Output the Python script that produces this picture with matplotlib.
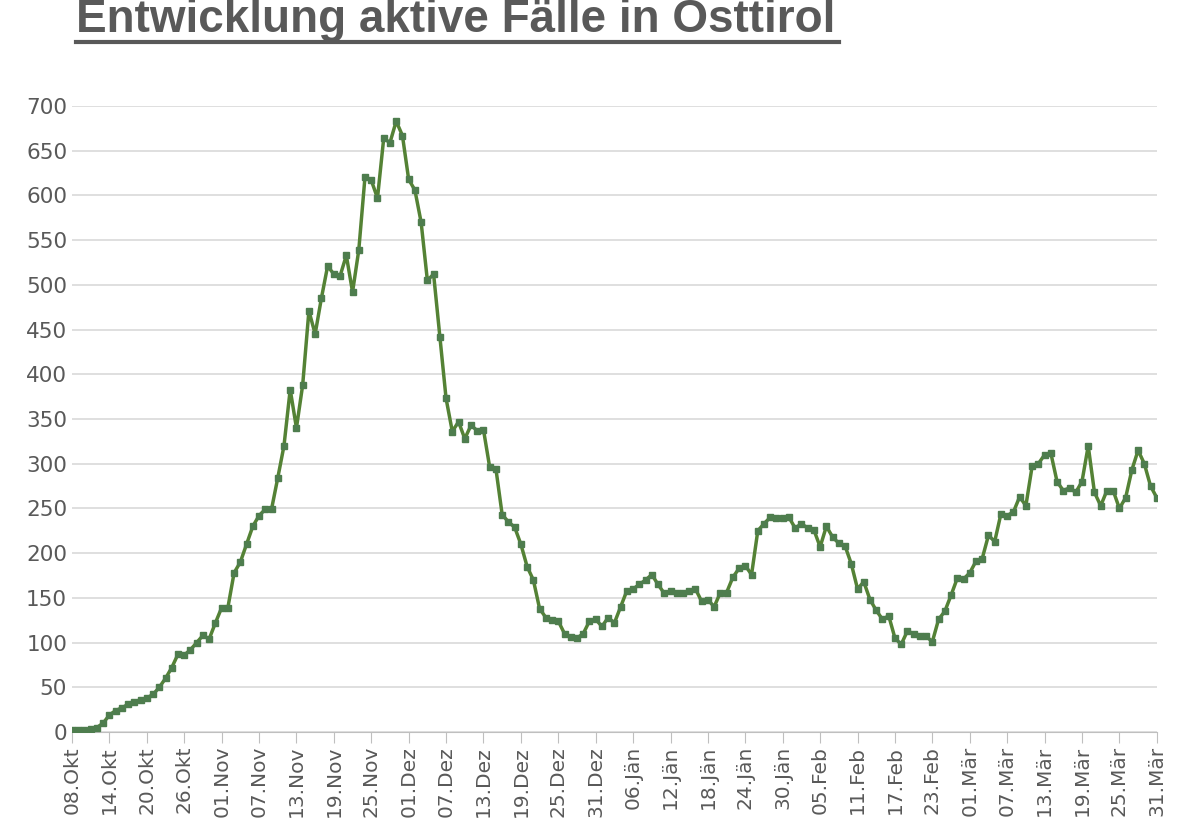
import datetime as dt
import matplotlib.pyplot as plt

# daily active cases, 08.Okt .. 31.Mär
values = [2, 2, 2,
          3, 5, 10, 19, 24, 27, 31, 34, 36, 38, 42, 50, 60, 72, 87, 86, 92, 100,
          108, 104, 122, 139, 139, 178, 190, 210, 230, 242, 249, 249, 284, 320, 383, 340,
          388, 471, 445, 485, 521, 512, 510, 533, 492, 539, 621, 617, 597, 664, 659, 683,
          667, 618, 606, 570, 505, 512, 442, 373, 336, 347,
          328, 343, 337, 338, 296, 294, 243, 235, 229, 210,
          185, 170, 138, 128, 125, 124, 110, 106, 105, 110,
          124, 126, 118, 128, 122, 140, 158, 160, 165, 170,
          176, 165, 155, 158, 155, 155, 158, 160, 146, 148,
          140, 156, 156, 173, 183, 186, 176, 225, 233, 240,
          239, 239, 240, 228, 233, 228, 226, 207, 230, 218,
          211, 208, 188, 160, 168, 148, 136, 126, 130, 105,
          98, 113, 110, 107, 107, 101, 126, 135, 153, 172,
          171, 178, 191, 194, 220, 213, 244, 242, 246, 263,
          253, 297, 300, 310, 312, 280, 270, 273, 268, 280,
          320, 268, 253, 270, 270, 250, 262, 293, 315, 300,
          275, 262]

months = {10: 'Okt', 11: 'Nov', 12: 'Dez', 1: 'Jän', 2: 'Feb', 3: 'Mär'}
start = dt.date(2020, 10, 8)
dates = [start + dt.timedelta(days=i) for i in range(len(values))]
tick_pos = list(range(0, len(values), 6))
tick_labels = [f"{dates[i].day:02d}.{months[dates[i].month]}" for i in tick_pos]

fig = plt.figure(figsize=(12, 8.25), dpi=100)
ax = fig.add_axes([0.06, 0.1127, 0.904, 0.7588])

x = list(range(len(values)))
ax.plot(x, values, color='#548235', linewidth=2.5, marker='s', markersize=5,
        markerfacecolor='#4E7D4E', markeredgecolor='#4E7D4E', zorder=3)

ax.set_xlim(0, len(values) - 1)
ax.set_ylim(0, 700)
ax.set_yticks(range(0, 701, 50))
ax.grid(axis='y', color='#d9d9d9', linewidth=1.2)
ax.set_axisbelow(True)
ax.set_xticks(tick_pos)
ax.set_xticklabels(tick_labels, rotation=90, fontsize=14.5, color='#595959')
ax.tick_params(axis='y', labelsize=15.5, labelcolor='#595959', length=0)
ax.tick_params(axis='x', length=8, color='#bfbfbf', pad=2)
for s in ['top', 'right', 'left']:
    ax.spines[s].set_visible(False)
ax.spines['bottom'].set_color('#bfbfbf')

fig.text(0.063, 0.976, 'Entwicklung aktive Fälle in Osttirol', fontsize=33,
         fontweight='bold', color='#595959', family='Liberation Sans',
         va='center', ha='left')
fig.add_artist(plt.Line2D([0.063, 0.699], [0.949, 0.949], color='#595959', linewidth=3))

fig.savefig('out.png', dpi=100)
